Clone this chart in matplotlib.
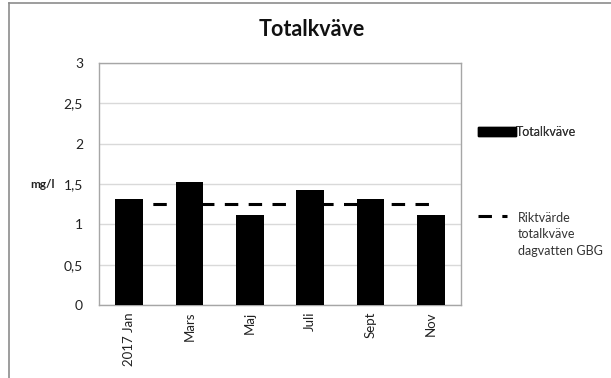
import matplotlib
matplotlib.use("Agg")
import matplotlib.pyplot as plt
from matplotlib.lines import Line2D
from matplotlib.patches import Patch

# Data
months = ["2017 Jan", "Mars", "Maj", "Juli", "Sept", "Nov"]
totalkvave = [1.32, 1.52, 1.12, 1.42, 1.32, 1.12]
riktvarde = [1.25, 1.25, 1.25, 1.25, 1.25, 1.25]
yticks = [0, 0.5, 1, 1.5, 2, 2.5, 3]
ytick_labels = ["0", "0,5", "1", "1,5", "2", "2,5", "3"]

plt.rcParams["font.family"] = ["Lato", "DejaVu Sans"]

W, H = 611, 378
fig = plt.figure(figsize=(W / 100, H / 100), dpi=100)
fig.patch.set_facecolor("white")

ax = fig.add_axes([99 / W, 1 - 305 / H, (461 - 99) / W, (305 - 63) / H])
x = list(range(len(months)))
ax.bar(x, totalkvave, width=0.455, color="black", zorder=3)
ax.plot(x, riktvarde, color="black", lw=2.2, linestyle=(0, (4.4, 3.4)),
        zorder=2)

ax.set_xlim(-0.5, len(months) - 0.5)
ax.set_ylim(0, 3)
ax.set_yticks(yticks)
ax.set_yticklabels(ytick_labels, fontsize=10, color="#222222")
ax.set_xticks(x)
ax.set_xticklabels(months, rotation=90, fontsize=9.5, color="#222222")
ax.tick_params(axis="both", length=0)
ax.tick_params(axis="y", pad=11.5)
ax.tick_params(axis="x", pad=5)
ax.grid(axis="y", color="#d9d9d9", lw=1, zorder=0)
ax.set_axisbelow(True)
for side in ["left", "right", "top", "bottom"]:
    ax.spines[side].set_color("#a6a6a6")
    ax.spines[side].set_linewidth(1)

fig.text(312 / W, 1 - 30 / H, "Totalkväve", ha="center", va="center",
         fontsize=15.5, fontweight="bold", color="#111111")
fig.text(30 / W, 1 - 185 / H, "mg/l", ha="left", va="center",
         fontsize=8.5, fontweight="bold", color="#222222")

# Legend entries
leg1 = fig.legend(handles=[Patch(facecolor="black", edgecolor="black")],
                  labels=["Totalkväve"], loc="center left",
                  bbox_to_anchor=(478 / W, 1 - 132 / H), frameon=False,
                  fontsize=9, handlelength=3.0, handleheight=0.65,
                  handletextpad=0.0, borderpad=0, borderaxespad=0)
leg2 = fig.legend(handles=[Line2D([0], [0], color="black", lw=2.2,
                                  linestyle=(0, (4.4, 3.4)))],
                  labels=["Riktvärde\ntotalkväve\ndagvatten GBG"],
                  loc="upper left", bbox_to_anchor=(478 / W, 1 - 212 / H),
                  frameon=False, fontsize=9, handlelength=2.3,
                  handletextpad=0.9, borderpad=0, borderaxespad=0)
for t in leg1.get_texts() + leg2.get_texts():
    t.set_color("#333333")
    t.set_linespacing(1.45)
# Put the dashed sample level with the first line of its label
for column in leg2._legend_handle_box.get_children():
    for row in column.get_children():
        row.align = "top"
fig.add_artist(leg1)

# Chart area border (top and left edges)
fig.add_artist(Line2D([9 / W, 1], [1 - 3 / H, 1 - 3 / H], color="#8c8c8c",
                      lw=1.2, transform=fig.transFigure))
fig.add_artist(Line2D([9 / W, 9 / W], [0, 1 - 3 / H], color="#8c8c8c",
                      lw=1.2, transform=fig.transFigure))

fig.savefig("out.png", dpi=100, facecolor="white")
